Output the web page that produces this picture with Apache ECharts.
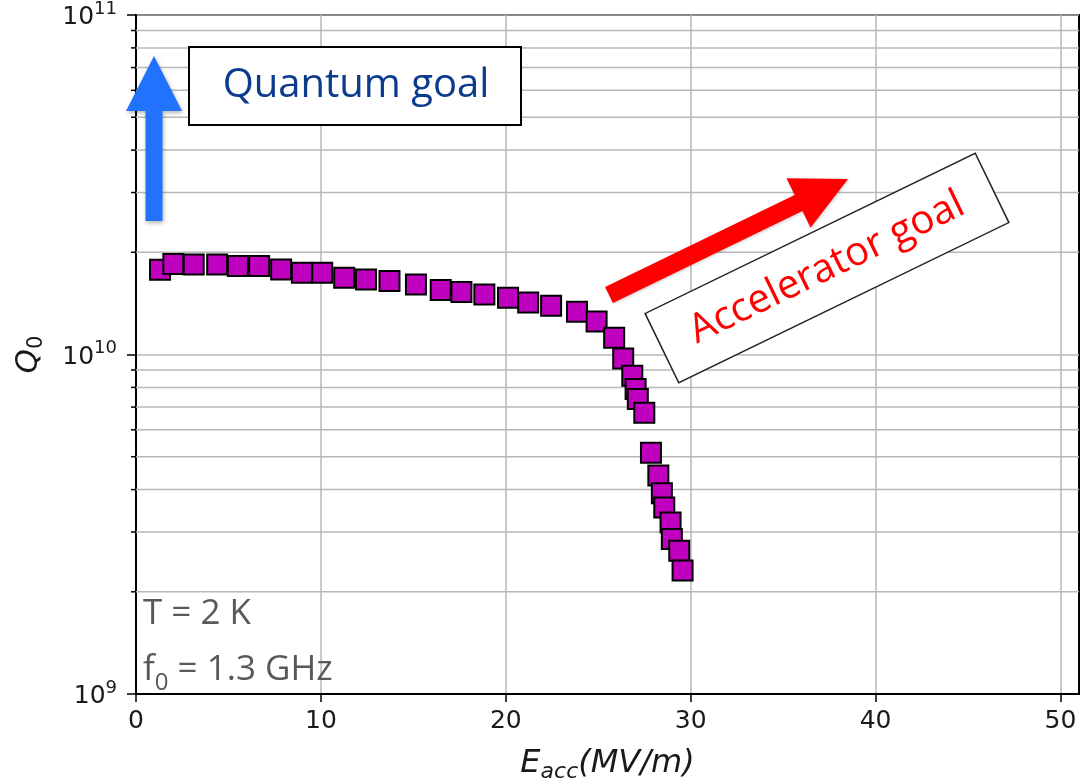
<!DOCTYPE html>
<html>
<head>
<meta charset="utf-8">
<script src="https://cdn.jsdelivr.net/npm/echarts@6/dist/echarts.min.js"></script>
<style>
  html, body { margin: 0; padding: 0; background: #fff; }
  #chart { width: 1086px; height: 781px; }
</style>
</head>
<body>
<div id="chart"></div>
<script>
// Unloaded quality factor Q0 versus accelerating gradient for a 1.3 GHz cavity at 2 K
const eacc = [1.30, 2.02, 3.12, 4.39, 5.51, 6.66, 7.85, 8.97, 10.07, 11.26, 12.44, 13.71,
  15.14, 16.48, 17.60, 18.84, 20.12, 21.21, 22.45, 23.85, 24.91, 25.86, 26.35, 26.84,
  27.02, 27.14, 27.49, 27.85, 28.25, 28.44, 28.57, 28.91, 28.98, 29.38, 29.56];
const q0 = [1.776e10, 1.847e10, 1.842e10, 1.842e10, 1.822e10, 1.822e10, 1.780e10, 1.740e10,
  1.740e10, 1.682e10, 1.663e10, 1.645e10, 1.608e10, 1.548e10, 1.527e10, 1.502e10, 1.469e10,
  1.423e10, 1.391e10, 1.336e10, 1.251e10, 1.120e10, 9.73e9, 8.66e9, 7.91e9, 7.39e9, 6.74e9,
  5.14e9, 4.40e9, 3.90e9, 3.54e9, 3.20e9, 2.86e9, 2.64e9, 2.31e9];
const xTicks = [0, 10, 20, 30, 40, 50];
const yDecades = [1e9, 1e10, 1e11];
const xRange = [0, 51];

// minor log grid values 2..9 within each decade
const yMinor = [];
yDecades.slice(0, -1).forEach(d => { for (let m = 2; m <= 9; m++) yMinor.push([0, m * d]); });

const points = eacc.map((x, i) => [x, q0[i]]);

function arrowPolygon(x0, y0, x1, y1, shaftW, headW, headL) {
  const dx = x1 - x0, dy = y1 - y0, len = Math.hypot(dx, dy);
  const ux = dx / len, uy = dy / len, nx = -uy, ny = ux;
  const bx = x1 - ux * headL, by = y1 - uy * headL;
  const s = shaftW / 2, h = headW / 2;
  return [
    [x0 + nx * s, y0 + ny * s], [bx + nx * s, by + ny * s], [bx + nx * h, by + ny * h],
    [x1, y1],
    [bx - nx * h, by - ny * h], [bx - nx * s, by - ny * s], [x0 - nx * s, y0 - ny * s]
  ];
}

const axisFont = 'DejaVu Sans';
const noteFont = 'Open Sans';
const accAngle = 25.9 * Math.PI / 180;

const chart = echarts.init(document.getElementById('chart'), null, { renderer: 'canvas' });

chart.setOption({
  animation: false,
  backgroundColor: '#fff',
  grid: {
    left: 136, top: 15, right: 7, bottom: 87,
    containLabel: false, outerBoundsMode: 'none',
    show: true, borderColor: '#000', borderWidth: 2, backgroundColor: 'transparent'
  },
  xAxis: {
    type: 'value',
    min: xRange[0], max: xRange[1], interval: 10,
    axisLine: { show: true, onZero: false, lineStyle: { color: '#000', width: 2 } },
    axisTick: { show: true, length: 8, customValues: xTicks, lineStyle: { color: '#000', width: 1.5 } },
    axisLabel: {
      customValues: xTicks, margin: 15,
      fontFamily: axisFont, fontSize: 25, color: '#1a1a1a'
    },
    splitLine: { show: true, lineStyle: { color: '#b8b8b8', width: 1.5 } },
    name: '{i|E}{s|acc}{i|(MV/m)}',
    nameLocation: 'middle',
    nameGap: 44,
    nameTextStyle: {
      rich: {
        i: { fontFamily: axisFont, fontStyle: 'italic', fontSize: 32, color: '#1a1a1a', lineHeight: 42, verticalAlign: 'bottom' },
        s: { fontFamily: axisFont, fontStyle: 'italic', fontSize: 22, color: '#1a1a1a', lineHeight: 22, verticalAlign: 'bottom', padding: [0, 0, -3, 0] }
      }
    }
  },
  yAxis: {
    type: 'log', logBase: 10,
    min: yDecades[0], max: yDecades[yDecades.length - 1],
    axisLine: { show: true, lineStyle: { color: '#000', width: 2 } },
    axisTick: { show: true, length: 9, lineStyle: { color: '#000', width: 1.5 } },
    axisLabel: {
      margin: 19,
      formatter: v => '{b|10}{s|' + Math.round(Math.log10(v)) + '}',
      rich: {
        b: { fontFamily: axisFont, fontSize: 25, color: '#1a1a1a', lineHeight: 30, verticalAlign: 'bottom' },
        s: { fontFamily: axisFont, fontSize: 18, color: '#1a1a1a', lineHeight: 18, verticalAlign: 'top' }
      }
    },
    splitLine: { show: true, lineStyle: { color: '#b8b8b8', width: 1.5 } },
    name: '{i|Q}{s|0}',
    nameLocation: 'middle',
    nameRotate: 90,
    nameGap: 92,
    nameTextStyle: {
      rich: {
        i: { fontFamily: axisFont, fontStyle: 'italic', fontSize: 31, color: '#1a1a1a', lineHeight: 40, verticalAlign: 'bottom' },
        s: { fontFamily: axisFont, fontSize: 21, color: '#1a1a1a', lineHeight: 21, verticalAlign: 'bottom', padding: [0, 0, -3, 0] }
      }
    }
  },
  series: [
    {
      // minor log gridlines and their ticks
      type: 'custom',
      silent: true,
      z: 1,
      clip: false,
      data: yMinor,
      encode: { x: 0, y: 1 },
      renderItem: (params, api) => {
        const cs = params.coordSys;
        const y = api.coord([0, api.value(1)])[1];
        return {
          type: 'group',
          children: [
            { type: 'line', shape: { x1: cs.x, y1: y, x2: cs.x + cs.width, y2: y },
              style: { stroke: '#b8b8b8', lineWidth: 1.5 } },
            { type: 'line', shape: { x1: cs.x - 5, y1: y, x2: cs.x, y2: y },
              style: { stroke: '#000', lineWidth: 1.5 } }
          ]
        };
      }
    },
    {
      type: 'scatter',
      z: 5,
      data: points,
      symbol: 'rect',
      symbolSize: 20,
      itemStyle: { color: '#bf00bf', borderColor: '#000', borderWidth: 2, opacity: 1 }
    }
  ],
  graphic: [
    {
      type: 'polygon', z: 100,
      shape: { points: arrowPolygon(154, 221, 154, 56, 17, 56, 55) },
      style: { fill: '#2072ff', shadowBlur: 4, shadowOffsetX: 1, shadowOffsetY: 2, shadowColor: 'rgba(0,0,0,0.3)' }
    },
    {
      type: 'rect', z: 100,
      shape: { x: 189, y: 47, width: 332, height: 78 },
      style: { fill: '#fff', stroke: '#000', lineWidth: 2 }
    },
    {
      type: 'text', z: 101,
      x: 356, y: 86,
      style: {
        text: 'Quantum goal', fontFamily: noteFont, fontSize: 40, fill: '#0b3b8c',
        align: 'center', verticalAlign: 'middle'
      }
    },
    {
      type: 'polygon', z: 100,
      shape: { points: arrowPolygon(609, 295, 848, 179, 18, 55, 55) },
      style: { fill: '#ff0000', shadowBlur: 3, shadowOffsetX: 1, shadowOffsetY: 1, shadowColor: 'rgba(0,0,0,0.2)' }
    },
    {
      type: 'group', z: 100,
      x: 827, y: 268, rotation: accAngle,
      children: [
        { type: 'rect', z: 100, shape: { x: -183.5, y: -38.5, width: 367, height: 77 },
          style: { fill: '#fff', stroke: '#222', lineWidth: 1.5 } },
        { type: 'text', z: 101, x: 0, y: 0,
          style: { text: 'Accelerator goal', fontFamily: noteFont, fontSize: 40, fill: '#ff0000',
            align: 'center', verticalAlign: 'middle' } }
      ]
    },
    {
      type: 'text', z: 100,
      x: 143, y: 614,
      style: { text: 'T = 2 K', fontFamily: noteFont, fontSize: 35, fill: '#595959', verticalAlign: 'middle' }
    },
    {
      type: 'text', z: 100,
      x: 143, y: 667,
      style: {
        text: '{m|f}{s|0}{m| = 1.3 GHz}',
        verticalAlign: 'middle',
        rich: {
          m: { fontFamily: noteFont, fontSize: 35, fill: '#595959', color: '#595959', lineHeight: 42, verticalAlign: 'bottom' },
          s: { fontFamily: noteFont, fontSize: 24, fill: '#595959', color: '#595959', lineHeight: 24, verticalAlign: 'bottom', padding: [0, 0, -7, 0] }
        }
      }
    }
  ]
});
</script>
</body>
</html>
